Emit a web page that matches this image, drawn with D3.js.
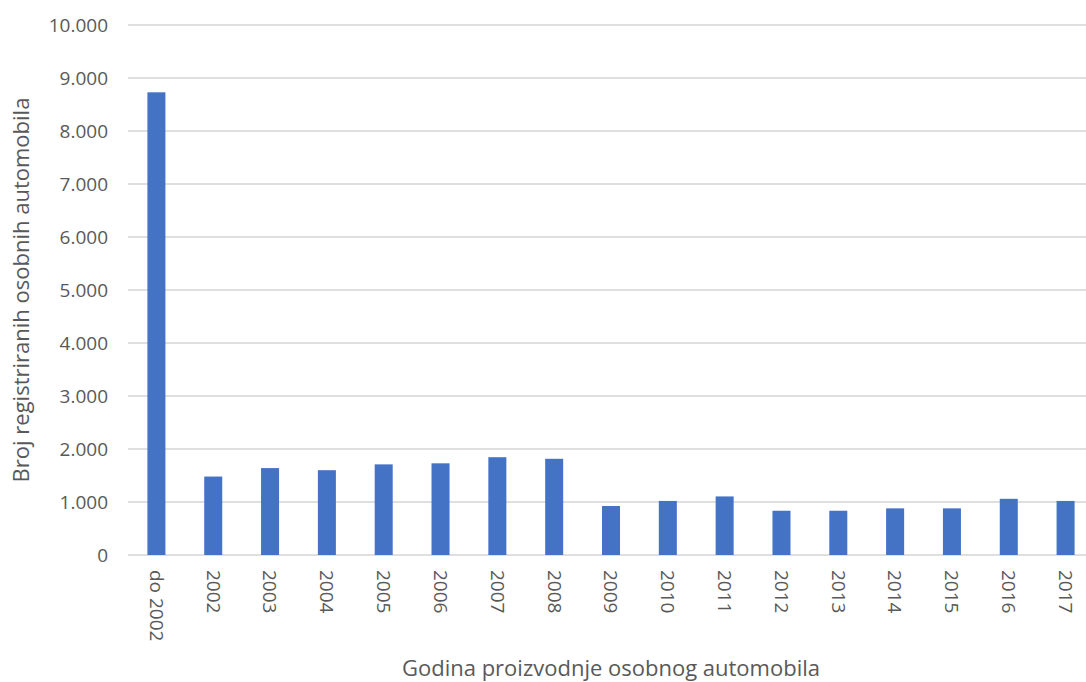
<!DOCTYPE html>
<html>
<head>
<meta charset="utf-8">
<script src="https://cdn.jsdelivr.net/npm/d3@7"></script>
<style>
  body { margin: 0; background: #fff; }
  svg { display: block; font-family: "Open Sans", "Noto Sans", sans-serif; }
</style>
</head>
<body>
<div id="chart"></div>
<script>
var categories = ['do 2002', '2002', '2003', '2004', '2005', '2006', '2007', '2008', '2009',
                  '2010', '2011', '2012', '2013', '2014', '2015', '2016', '2017'];
var values = [8730, 1480, 1640, 1600, 1710, 1730, 1845, 1815, 925,
              1020, 1105, 835, 835, 880, 880, 1060, 1020];
var yTicks = [0, 1000, 2000, 3000, 4000, 5000, 6000, 7000, 8000, 9000, 10000];
var xTitle = 'Godina proizvodnje osobnog automobila';
var yTitle = 'Broj registriranih osobnih automobila';

var W = 1086, H = 682;
var m = {left: 128, right: 1094, top: 25, bottom: 555};

var svg = d3.select('#chart').append('svg')
  .attr('width', W).attr('height', H);

var x = d3.scaleBand().domain(categories).range([m.left, m.right])
  .paddingInner(0.683).paddingOuter(0.683 / 2);
var y = d3.scaleLinear().domain([0, 10000]).range([m.bottom, m.top]);

var fmt = function(v) { return d3.format(',')(v).replace(/,/g, '.'); };

// gridlines
svg.append('g')
  .selectAll('line').data(yTicks).enter().append('line')
  .attr('x1', m.left).attr('x2', W)
  .attr('y1', function(d) { return y(d); })
  .attr('y2', function(d) { return y(d); })
  .style('stroke', '#d4d4d4')
  .style('stroke-width', '1.6px');

// y axis labels
svg.append('g')
  .attr('transform', 'translate(' + (m.left - 20) + ',0)')
  .call(d3.axisLeft(y).tickValues(yTicks).tickFormat(fmt).tickSize(0).tickPadding(0))
  .call(function(g) { g.select('.domain').remove(); })
  .selectAll('text')
  .style('font-size', '19px')
  .style('fill', '#595959')
  .style('font-family', '"Open Sans", sans-serif');

// bars
svg.append('g').selectAll('rect')
  .data(values).enter().append('rect')
  .attr('x', function(d, i) { return x(categories[i]); })
  .attr('width', x.bandwidth())
  .attr('y', function(d) { return y(d); })
  .attr('height', function(d) { return m.bottom - y(d); })
  .style('fill', '#4472c4');

// x labels, rotated
svg.append('g').selectAll('text')
  .data(categories).enter().append('text')
  .attr('transform', function(d) {
    return 'translate(' + (x(d) + x.bandwidth() / 2) + ',' + (m.bottom + 15) + ') rotate(90)';
  })
  .attr('dy', '0.35em')
  .attr('text-anchor', 'start')
  .style('font-size', '19px')
  .style('fill', '#595959')
  .text(function(d) { return d; });

// axis titles
svg.append('text')
  .attr('x', 611).attr('y', 676)
  .attr('text-anchor', 'middle')
  .style('font-size', '22px')
  .style('fill', '#595959')
  .text(xTitle);

svg.append('text')
  .attr('transform', 'translate(29,290) rotate(-90)')
  .attr('text-anchor', 'middle')
  .style('font-size', '22px')
  .style('fill', '#595959')
  .text(yTitle);
</script>
</body>
</html>
